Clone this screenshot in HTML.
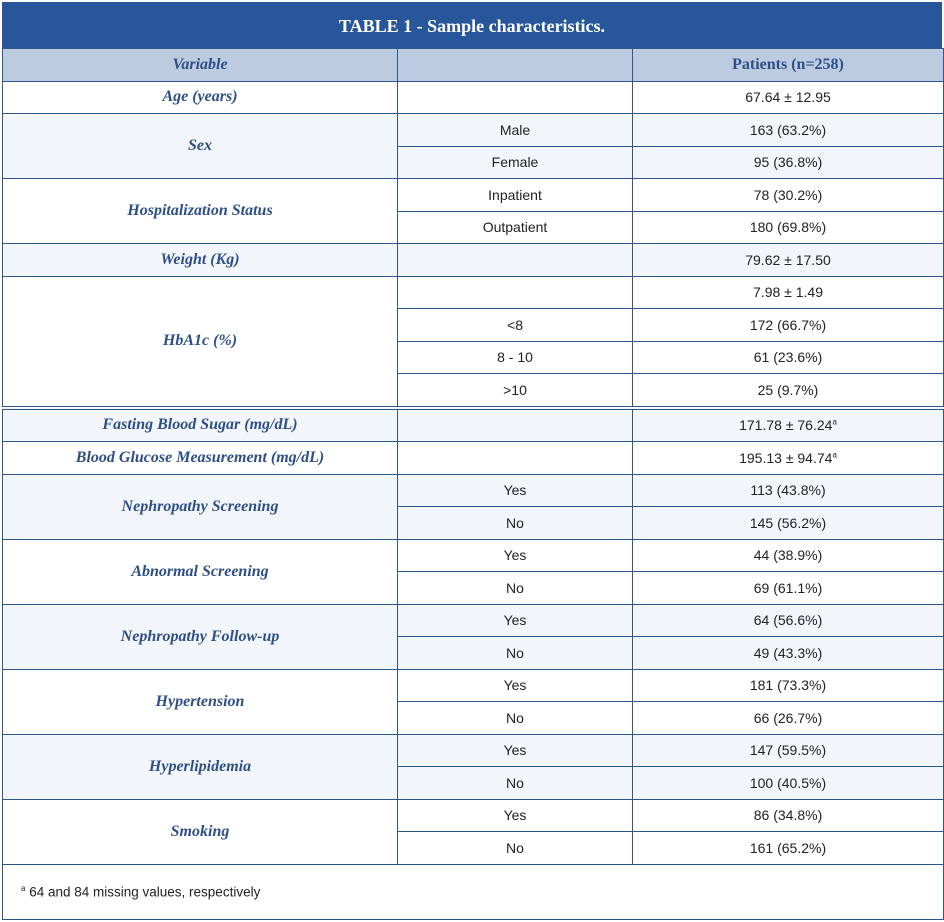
<!DOCTYPE html>
<html><head><meta charset="utf-8"><style>
body{margin:0;background:#fff;width:944px;height:922px;overflow:hidden;position:relative}
.title{position:absolute;left:2px;top:2px;width:940px;height:46px;background:#27579a;color:#fff;font:bold 18px "Liberation Serif",serif;text-align:center;line-height:48px}
table{position:absolute;left:2px;top:48px;width:941px;border-collapse:collapse;table-layout:fixed}
td{border:1.5px solid #2d5689;height:31.5px;padding:0;text-align:center;font:14px "Liberation Sans",sans-serif;color:#222}
td.v{font:bold italic 16px "Liberation Serif",serif;color:#2d4f86}
tr.h td{background:#bccbdf;font:bold 16px "Liberation Serif",serif;color:#2d4f86;height:31.5px}
tr.h td.v{font-style:italic}
.l td{background:#f2f6fa}
tr.dbl td{border-top:4px double #2d5689}
td.f{text-align:left;padding-left:18px;height:54px;font-size:13.5px}
sup{font-size:8px}
</style></head><body>
<div class="title">TABLE 1 - Sample characteristics.</div>
<table>
<col style="width:395px"><col style="width:235px"><col style="width:311px">
<tr class="h"><td class="v">Variable</td><td></td><td>Patients (n=258)</td></tr>
<tr><td class="v">Age (years)</td><td></td><td>67.64 ± 12.95</td></tr>
<tr class="l"><td class="v" rowspan="2">Sex</td><td>Male</td><td>163 (63.2%)</td></tr>
<tr class="l"><td>Female</td><td>95 (36.8%)</td></tr>
<tr><td class="v" rowspan="2">Hospitalization Status</td><td>Inpatient</td><td>78 (30.2%)</td></tr>
<tr><td>Outpatient</td><td>180 (69.8%)</td></tr>
<tr class="l"><td class="v">Weight (Kg)</td><td></td><td>79.62 ± 17.50</td></tr>
<tr><td class="v" rowspan="4">HbA1c (%)</td><td></td><td>7.98 ± 1.49</td></tr>
<tr><td>&lt;8</td><td>172 (66.7%)</td></tr>
<tr><td>8 - 10</td><td>61 (23.6%)</td></tr>
<tr><td>&gt;10</td><td>25 (9.7%)</td></tr>
<tr class="l dbl"><td class="v">Fasting Blood Sugar (mg/dL)</td><td></td><td>171.78 ± 76.24<sup>a</sup></td></tr>
<tr><td class="v">Blood Glucose Measurement (mg/dL)</td><td></td><td>195.13 ± 94.74<sup>a</sup></td></tr>
<tr class="l"><td class="v" rowspan="2">Nephropathy Screening</td><td>Yes</td><td>113 (43.8%)</td></tr>
<tr class="l"><td>No</td><td>145 (56.2%)</td></tr>
<tr><td class="v" rowspan="2">Abnormal Screening</td><td>Yes</td><td>44 (38.9%)</td></tr>
<tr><td>No</td><td>69 (61.1%)</td></tr>
<tr class="l"><td class="v" rowspan="2">Nephropathy Follow-up</td><td>Yes</td><td>64 (56.6%)</td></tr>
<tr class="l"><td>No</td><td>49 (43.3%)</td></tr>
<tr><td class="v" rowspan="2">Hypertension</td><td>Yes</td><td>181 (73.3%)</td></tr>
<tr><td>No</td><td>66 (26.7%)</td></tr>
<tr class="l"><td class="v" rowspan="2">Hyperlipidemia</td><td>Yes</td><td>147 (59.5%)</td></tr>
<tr class="l"><td>No</td><td>100 (40.5%)</td></tr>
<tr><td class="v" rowspan="2">Smoking</td><td>Yes</td><td>86 (34.8%)</td></tr>
<tr><td>No</td><td>161 (65.2%)</td></tr>
<tr><td class="f" colspan="3"><sup>a</sup> 64 and 84 missing values, respectively</td></tr>
</table>
</body></html>
